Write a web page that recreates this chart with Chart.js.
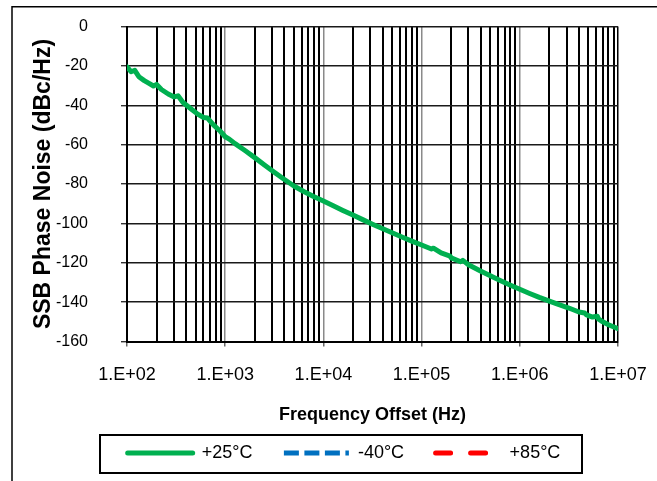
<!DOCTYPE html>
<html>
<head>
<meta charset="utf-8">
<script src="https://cdn.jsdelivr.net/npm/chart.js@4.4.0/dist/chart.umd.min.js"></script>
<style>
  body { margin: 0; background: #fff; }
</style>
</head>
<body>
<canvas id="grafico" width="657" height="481"></canvas>
<script>
var freqHz = [100, 110, 120, 132, 150, 166, 186, 200, 224, 263, 302, 331, 372, 447, 525, 603, 661, 759, 891,
  1000, 1100, 1260, 1590, 2000, 2510, 3160, 3980, 5010, 6310, 7940,
  10000, 12600, 15800, 20000, 25100, 31600, 39800, 50100, 63100, 79400,
  100000, 126000, 132000, 158000, 195000, 200000, 250000, 263000, 300000, 398000, 501000, 631000, 794000,
  1000000, 1260000, 1580000, 2000000, 2510000, 3160000, 4000000, 4570000, 4790000, 5500000, 6170000, 6310000, 7000000, 8000000,
  10000000]
var ruido25 = [-20.5, -23, -22.3, -25.5, -27.5, -28.8, -30.2, -29.4, -32, -34.3, -35.8, -35.2, -38.6, -41.8, -44.5, -46.2, -46.5, -50, -53.2,
  -56, -57.2, -59.5, -63, -66.6, -70.3, -74, -77.6, -81, -83.8, -86.3,
  -88.6, -91, -93.4, -95.8, -98.1, -100.4, -102.6, -104.8, -106.9, -109,
  -111, -113, -112.6, -115, -116.6, -117.5, -119.5, -118.8, -121, -124.2, -126.6, -129, -131.3,
  -133.5, -135.6, -137.6, -139.5, -141.3, -143, -145, -145.5, -146.5, -147.6, -147.2, -148.5, -150, -151.5,
  -153.5]
// as outras temperaturas não aparecem no gráfico, só na legenda
var ruidoMenos40 = []
var ruido85 = []

var decadas = [1e2, 1e3, 1e4, 1e5, 1e6, 1e7]
var rotulosX = ['1.E+02', '1.E+03', '1.E+04', '1.E+05', '1.E+06', '1.E+07']
var ticksY = [-160, -140, -120, -100, -80, -60, -40, -20, 0]

var fonte = 'Arial, "Liberation Sans", sans-serif'

//Todos os ticks do eixo log (1..9 por década)
var ticksX = []
for (var d = 0; d < decadas.length - 1; d++) {
  for (var m = 1; m < 10; m++) ticksX.push(decadas[d] * m)
}
ticksX.push(decadas[decadas.length - 1])

function ehDecada(v) {
  return decadas.indexOf(v) >= 0
}

function pontos(vetor) {
  return vetor.map(function (y, i) { return { x: freqHz[i], y: y } })
}

//Moldura externa, posição da legenda e caixa da legenda
const moldura = {
  id: 'moldura',
  afterLayout(chart) {
    const l = chart.legend
    l.left += 35; l.right += 35
    l.top -= 13; l.bottom -= 13
  },
  beforeDraw(chart) {
    const c = chart.ctx
    c.save()
    c.fillStyle = '#fff'
    c.fillRect(0, 0, chart.width, chart.height)
    c.strokeStyle = '#000'
    c.lineWidth = 1.5
    c.strokeRect(12, 6.75, chart.width + 50, chart.height + 50)
    c.restore()
  },
  afterDraw(chart) {
    const hb = chart.legend.legendHitBoxes
    if (!hb || !hb.length) return
    const meio = hb[0].top + hb[0].height / 2
    const c = chart.ctx
    c.save()
    c.strokeStyle = '#000'
    c.lineWidth = 2
    c.strokeRect(100, meio - 18, 482, 38)
    c.restore()
  }
}

const ctx = document.getElementById('grafico')

let grafico = new Chart(ctx, {
  type: 'line',
  data: {
    datasets: [{
      label: '+25°C',
      data: pontos(ruido25),
      borderColor: '#00b050',
      backgroundColor: '#00b050',
      borderWidth: 5,
      borderCapStyle: 'round',
      borderJoinStyle: 'round',
      pointRadius: 0,
      tension: 0
    }, {
      label: '-40°C',
      data: pontos(ruidoMenos40),
      borderColor: '#0070c0',
      backgroundColor: '#0070c0',
      borderWidth: 5,
      borderDash: [15, 5.5],
      borderCapStyle: 'butt',
      pointRadius: 0
    }, {
      label: '+85°C',
      data: pontos(ruido85),
      borderColor: '#ff0000',
      backgroundColor: '#ff0000',
      borderWidth: 5,
      borderDash: [15, 20],
      borderCapStyle: 'round',
      pointRadius: 0
    }]
  },
  options: {
    responsive: false,
    animation: false,
    events: [],
    layout: { padding: { top: 26.5, right: 39, left: 0, bottom: -4 } },
    plugins: {
      title: { display: false },
      tooltip: { enabled: false },
      legend: {
        position: 'bottom',
        labels: {
          usePointStyle: true,
          pointStyle: 'line',
          pointStyleWidth: 65,
          boxHeight: 18,
          padding: 31.5,
          color: '#000',
          font: { family: fonte, size: 18 },
          //copia o tracejado de cada série para a legenda
          generateLabels: function (chart) {
            var itens = Chart.defaults.plugins.legend.labels.generateLabels(chart)
            itens.forEach(function (it) {
              var ds = chart.data.datasets[it.datasetIndex]
              it.lineDash = ds.borderDash || []
              it.lineCap = ds.borderCapStyle
              it.lineWidth = ds.borderWidth
              it.strokeStyle = ds.borderColor
            })
            return itens
          }
        }
      }
    },
    scales: {
      x: {
        type: 'logarithmic',
        min: 100,
        max: 1e7,
        afterBuildTicks: function (scale) {
          scale.ticks = ticksX.map(function (v) { return { value: v, major: ehDecada(v) } })
        },
        afterFit: function (scale) {
          scale.height = 84
          scale.paddingLeft = 20
          scale.paddingRight = 20
        },
        ticks: {
          autoSkip: false,
          maxRotation: 0,
          minRotation: 0,
          padding: 18,
          color: '#000',
          font: { family: fonte, size: 18 },
          callback: function (v) {
            var i = decadas.indexOf(v)
            return i >= 0 ? rotulosX[i] : ''
          }
        },
        grid: {
          tickLength: 5,
          color: function (c) {
            if (!c.tick) return '#000'
            var v = c.tick.value
            return (ehDecada(v) && v !== 1e7 && v !== 1e2) ? '#8a8a8a' : '#000'
          },
          lineWidth: function (c) {
            return (c.tick && ehDecada(c.tick.value)) ? 1.5 : 2
          },
          tickColor: function (c) {
            return (c.tick && ehDecada(c.tick.value)) ? '#666' : 'rgba(0,0,0,0)'
          }
        },
        border: { color: '#000', width: 2 },
        title: {
          display: true,
          text: 'Frequency Offset (Hz)',
          color: '#000',
          padding: { top: 0, bottom: 0 },
          font: { family: fonte, size: 18, weight: 'bold' }
        }
      },
      y: {
        min: -160,
        max: 0,
        afterBuildTicks: function (scale) {
          scale.ticks = ticksY.map(function (v) { return { value: v } })
        },
        afterFit: function (scale) {
          scale.width = 127
          // o padding dos rótulos não deve empurrar a área do gráfico
          scale.paddingTop = 10
          scale.paddingBottom = 10
        },
        ticks: {
          padding: 33,
          color: '#000',
          font: { family: fonte, size: 16 }
        },
        grid: {
          tickLength: 6,
          color: '#1a1a1a',
          lineWidth: 1.4,
          tickColor: '#333'
        },
        border: { color: '#000', width: 2 },
        title: {
          display: true,
          text: 'SSB Phase Noise (dBc/Hz)',
          color: '#000',
          padding: { top: 30, bottom: 0 },
          font: { family: fonte, size: 23, weight: 'bold' }
        }
      }
    }
  },
  plugins: [moldura]
})
</script>
</body>
</html>
